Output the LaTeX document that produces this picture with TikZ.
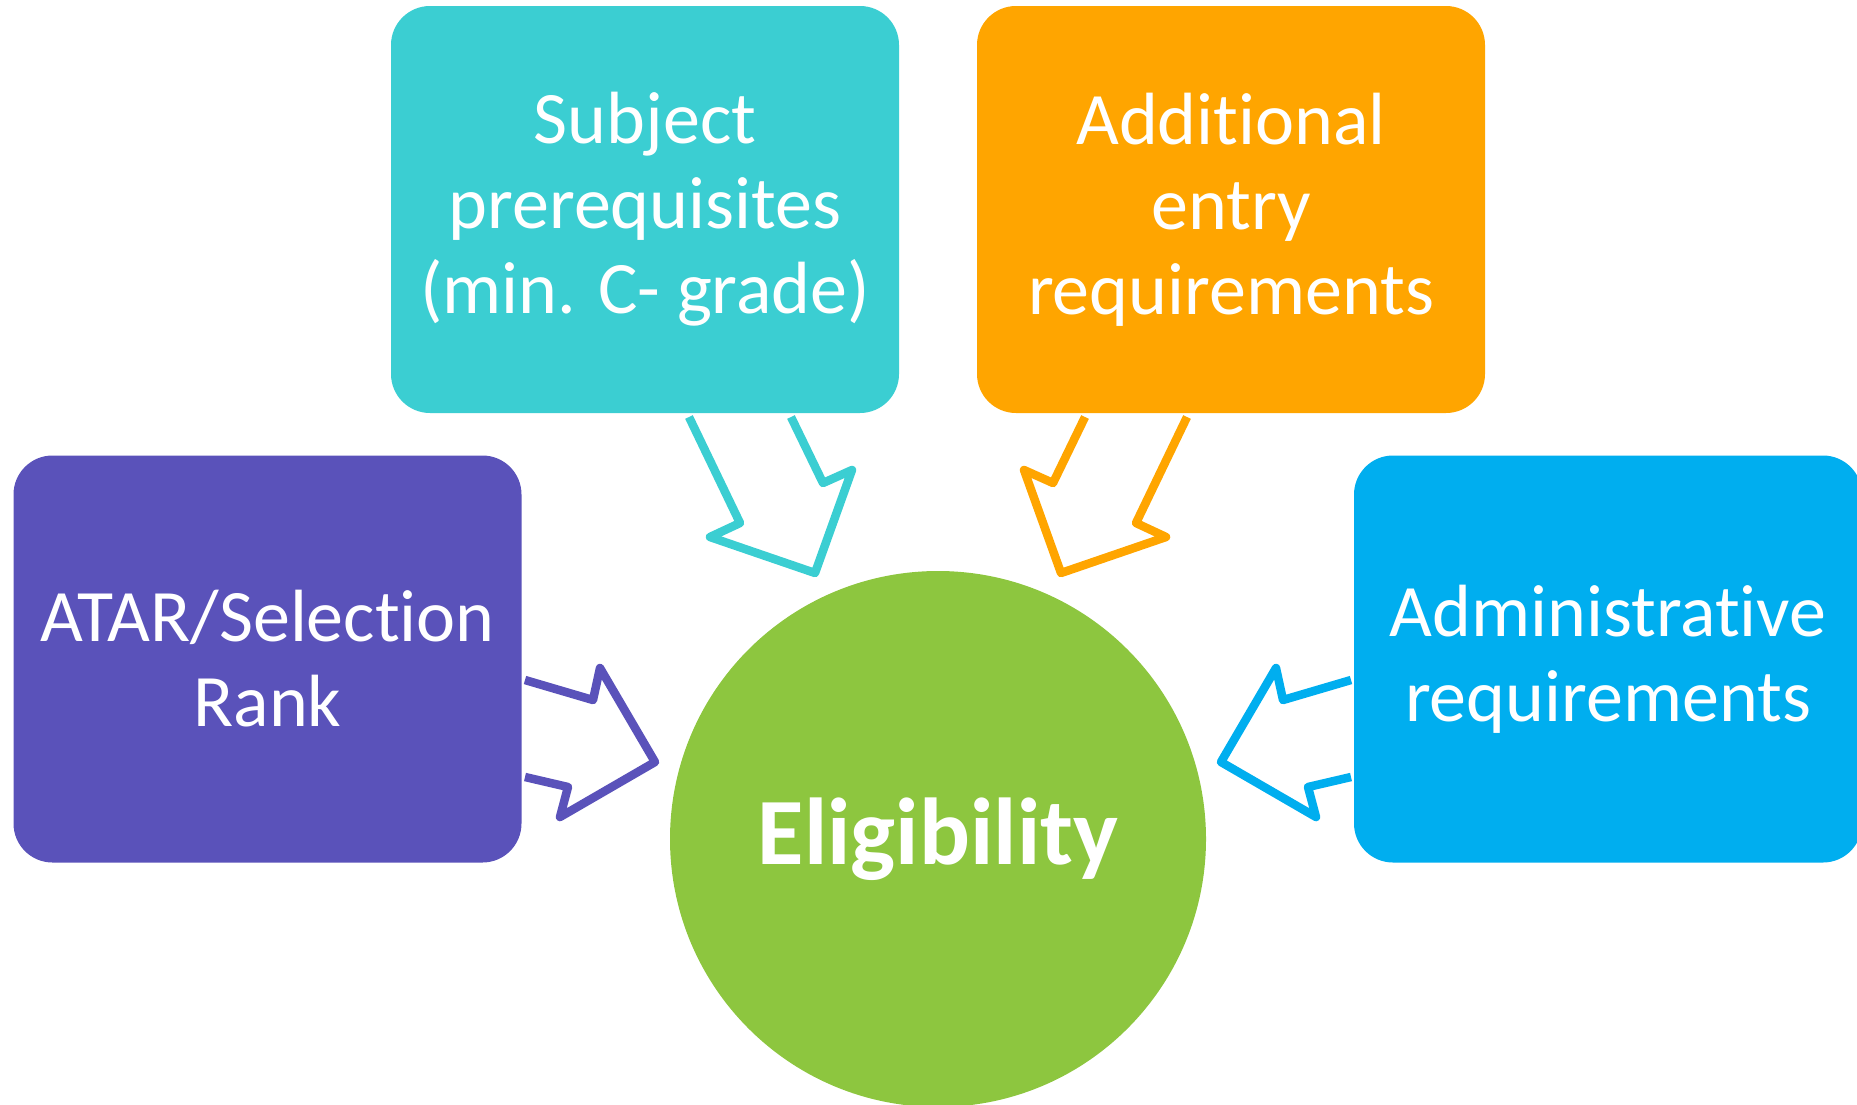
\documentclass[tikz,border=0pt]{standalone}
\usepackage{fontspec}
\setmainfont[Ligatures={NoCommon,NoRare}]{Carlito}
\usetikzlibrary{positioning}

\definecolor{subjcyan}{RGB}{59,206,210}
\definecolor{addorange}{RGB}{255,165,0}
\definecolor{atarpurple}{RGB}{90,82,186}
\definecolor{adminblue}{RGB}{0,174,239}
\definecolor{eligreen}{RGB}{141,198,63}

\tikzset{
  reqbox/.style={rectangle, rounded corners=39, minimum width=508, minimum height=407,
    text=white, align=center, inner sep=0pt, font=\fontsize{74}{85}\selectfont},
  eligcircle/.style={circle, minimum size=536, inner sep=0pt, fill=eligreen,
    text=white, font=\fontsize{95}{100}\selectfont\bfseries},
  openarrow/.style={line width=8.5, line join=round}
}

\begin{document}
\begin{tikzpicture}[x=1pt,y=1pt,yscale=-1,xscale=1]

\useasboundingbox (0,0) rectangle (1857,1104);
\clip (0,0) rectangle (1857,1104);

% Boxes
\node [reqbox, fill=subjcyan] (subj) at (645,209.5) {Subject\\prerequisites\\(min. C- grade)};
\node [reqbox, fill=addorange] (addreq) at (1231,209.5) {Additional\\entry\\requirements};
\node [reqbox, fill=atarpurple] (atar) at (267.5,659) {ATAR/Selection\\Rank};
\node [reqbox, fill=adminblue] (admin) at (1608,659) {Administrative\\requirements};

% Circle
\node [eligcircle] (elig) at (938,839) {Eligibility};

% Open arrows
\draw [openarrow, color=subjcyan] (689,417) -- (740,523) -- (710,537) -- (815,573) -- (852,470) -- (823,483) -- (791,417);
\draw [openarrow, color=addorange] (1187,417) -- (1136,523) -- (1166,537) -- (1061,573) -- (1024,470) -- (1053,483) -- (1085,417);
\draw [openarrow, color=atarpurple] (525,680) -- (593,700) -- (600,668) -- (655,762) -- (560,817) -- (568,787) -- (525,777);
\draw [openarrow, color=adminblue] (1351,680) -- (1283,700) -- (1276,668) -- (1221,762) -- (1316,817) -- (1308,787) -- (1351,777);

\end{tikzpicture}
\end{document}
